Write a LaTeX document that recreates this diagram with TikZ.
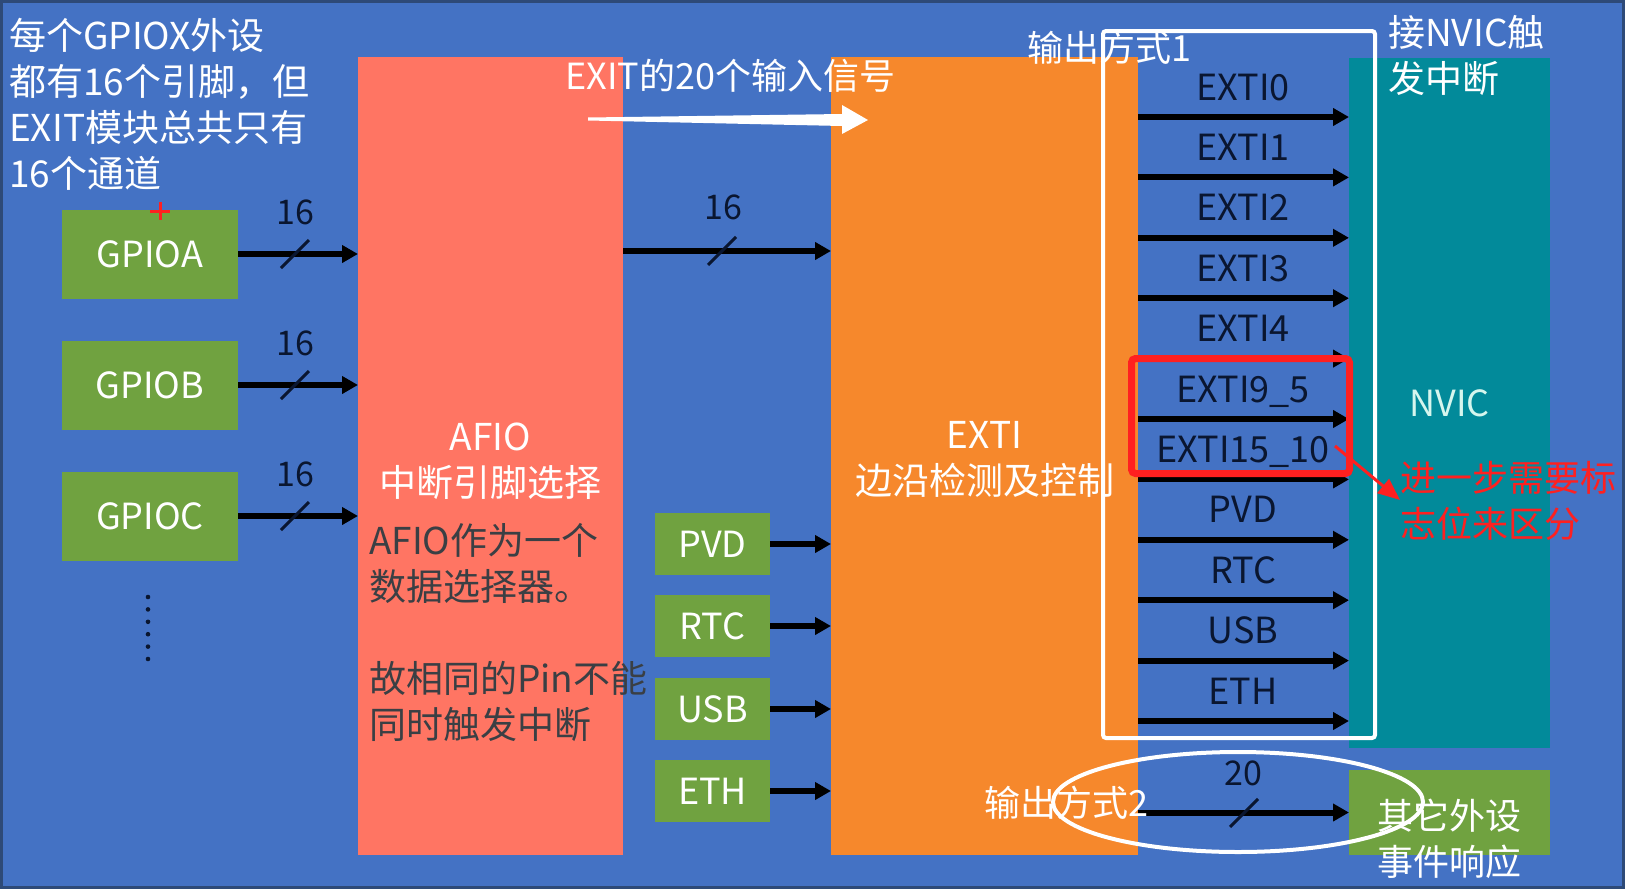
\documentclass[tikz,border=0pt]{standalone}
\usepackage{fontspec}
\setmainfont{Noto Sans CJK SC}
\usetikzlibrary{arrows.meta,calc}

\definecolor{bgblue}{HTML}{4472C4}
\definecolor{bordline}{HTML}{2E4A78}
\definecolor{afiored}{HTML}{FF7563}
\definecolor{extiorange}{HTML}{F6882C}
\definecolor{nvicteal}{HTML}{028A9A}
\definecolor{gpiogreen}{HTML}{70A240}
\definecolor{navy}{HTML}{0A1630}
\definecolor{notegray}{HTML}{3A3F44}
\definecolor{markred}{HTML}{FF2020}
\definecolor{nviccyan}{HTML}{D6F6EE}

\begin{document}
\begin{tikzpicture}[x=1pt,y=-1pt,
    txt/.style={font=\fontsize{36}{46}\selectfont, inner sep=0pt},
    bigtxt/.style={font=\fontsize{37}{46}\selectfont, inner sep=0pt},
    blk/.style={inner sep=0pt, outer sep=0pt},
    gpio/.style={blk, txt, fill=gpiogreen, text=white, minimum width=176pt, minimum height=89pt},
    src/.style={blk, txt, fill=gpiogreen, text=white, minimum width=115pt, minimum height=62pt},
    lbl/.style={txt, text=navy, text height=24pt, text depth=0pt},
    num/.style={font=\fontsize{34}{40}\selectfont, text=navy, inner sep=0pt},
    sig/.style={line width=6pt, -{Triangle[length=16pt,width=17pt]}},
    slash/.style={line width=3pt, navy}]
  \useasboundingbox (0,0) rectangle (1625,889);
  \fill[bgblue] (0,0) rectangle (1625,889);
  \draw[bordline, line width=3pt] (1.5,1.5) rectangle (1623.5,887.5);

  % blocks
  \node[blk, fill=afiored, minimum width=265pt, minimum height=798pt] (afio) at (490.5,456) {};
  \node[blk, fill=extiorange, minimum width=307pt, minimum height=798pt] (exti) at (984.5,456) {};
  \node[blk, txt, fill=nvicteal, text=nviccyan, minimum width=201pt, minimum height=690pt] (nvic) at (1449.5,403) {NVIC};
  \node[blk, fill=gpiogreen, minimum width=201pt, minimum height=85pt] (evt) at (1449.5,812.5) {};

  \node[gpio] (ga) at (150,254) {GPIOA};
  \node[gpio] (gb) at (150,385) {GPIOB};
  \node[gpio] (gc) at (150,516) {GPIOC};
  \foreach \k in {0,...,5}
    \fill[navy] (148,597+12.4*\k) circle (2.3pt);
  \draw[markred, line width=3pt] (150,211) -- (170,211) (160,202) -- (160,220);

  \node[src] (pvd) at (712.5,544) {PVD};
  \node[src] (rtc) at (712.5,626) {RTC};
  \node[src] (usb) at (712.5,709) {USB};
  \node[src] (eth) at (712.5,791) {ETH};

  % inputs
  \foreach \g in {ga,gb,gc} {
    \draw[sig] (\g.east) -- (afio.west |- \g.east);
    \draw[slash] ($(\g.east)+(43,14)$) -- ++(28,-28);
    \node[num] at ($(\g.east)+(57,-42)$) {16};
  }
  \foreach \s in {pvd,rtc,usb,eth}
    \draw[sig] (\s.east) -- (exti.west |- \s.east);

  \coordinate (busy) at (0,251);
  \draw[sig] (afio.east |- busy) -- (exti.west |- busy);
  \draw[slash] (708,265) -- ++(28,-28);
  \node[num] (n16) at (723,207) {16};

  % outputs
  \foreach \t [count=\i from 0] in {EXTI0,EXTI1,EXTI2,EXTI3,EXTI4,EXTI9\_5,EXTI15\_10,PVD,RTC,USB,ETH} {
    \coordinate (o\i) at (1243,117+60.4*\i);
    \node[lbl, anchor=base] (l\i) at ($(o\i)+(0,-17)$) {\t};
    \draw[sig] (exti.east |- o\i) -- (nvic.west |- o\i);
  }
  \draw[sig] (exti.east |- evt.west) -- (evt.west);
  \draw[slash] (1230,827) -- ++(28,-28);
  \node[num] (n20) at (1243,773) {20};

  % texts
  \node[bigtxt, text=white, align=center] (afiot) at (490.5,461) {AFIO\\中断引脚选择};
  \node[bigtxt, text=white, align=center] (extit) at (984.5,459) {EXTI\\边沿检测及控制};
  \node[bigtxt, text=white, align=left, anchor=north west] (note) at (9,18)
    {每个GPIOX外设\\都有16个引脚，但\\EXIT模块总共只有\\16个通道};
  \node[bigtxt, text=notegray, align=left, anchor=north west] (afion) at (369,523)
    {AFIO作为一个\\数据选择器。\\[46pt]故相同的Pin不能\\同时触发中断};
  \node[txt, text=white, anchor=west] (intxt) at (565,76) {EXIT的20个输入信号};
  \node[bigtxt, text=white, align=left, anchor=north west] (nvict) at (1388,15) {接NVIC触\\发中断};
  \node[txt, text=white, align=left, anchor=north west] (evtt) at (1377,799) {其它外设\\事件响应};
  \node[txt, text=markred, align=left, anchor=north west] (flagt) at (1400,461) {进一步需要标\\志位来区分};
  \node[txt, text=white, anchor=west] (m1t) at (1027,48) {输出方式1};
  \node[txt, text=white, anchor=west] (m2t) at (984,803) {输出方式2};

  % marks
  \coordinate (wt) at (588,119);
  \coordinate (wh) at (868,120);
  \fill[white] (wt) -- (588,117.5) -- (842,114) -- (842,105) -- (wh)
    -- (842,134) -- (842,126) -- (588,120.5) -- cycle;
  \node[draw=white, line width=4pt, rounded corners=3pt, minimum width=272pt, minimum height=707pt] (mode1) at (1239,384.5) {};
  \node[draw=markred, line width=7pt, rounded corners=4pt, minimum width=218pt, minimum height=115pt] (flag) at (1240.5,416) {};
  \coordinate (fs) at (1335,446);
  \coordinate (ft) at (1400,500);
  \draw[markred, line width=3pt, -{Triangle[length=22pt,width=18pt]}] (fs) -- (ft);
  \draw[white, line width=4pt] (1238,802) ellipse [x radius=185, y radius=50];
\end{tikzpicture}
\end{document}
